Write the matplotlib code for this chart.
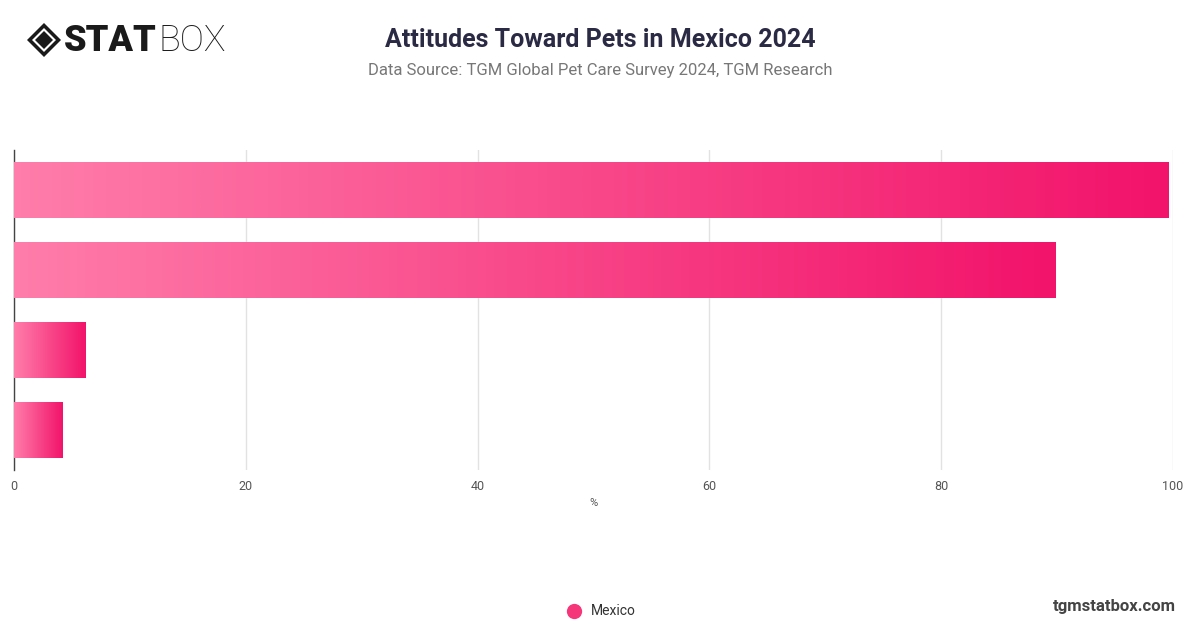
import numpy as np
import matplotlib.pyplot as plt
from matplotlib.colors import LinearSegmentedColormap
from matplotlib.patches import Polygon
from matplotlib.lines import Line2D

plt.rcParams['font.family'] = ['Roboto', 'DejaVu Sans']

# dados (rótulos das categorias não aparecem no gráfico)
categorias = ["A", "B", "C", "D"]
valores = [99.6, 89.9, 6.2, 4.2]
serie = "Mexico"
ticks_x = [0, 20, 40, 60, 80, 100]

cor_clara = "#FF7DAA"
cor_escura = "#F2136A"
cmap = LinearSegmentedColormap.from_list("rosa", [cor_clara, cor_escura])

fig = plt.figure(figsize=(12, 6.28), dpi=100)
ax = fig.add_axes([14 / 1200, 1 - 470 / 628, (1173 - 14) / 1200, 320 / 628])

altura = 0.7
grad = np.linspace(0, 1, 256).reshape(1, -1)
for i, v in enumerate(valores):
    ax.imshow(grad, cmap=cmap, aspect="auto", interpolation="bicubic",
              extent=[0, v, i + altura / 2, i - altura / 2], zorder=3)

ax.set_xlim(0, 100)
ax.set_ylim(len(valores) - 0.5, -0.5)
ax.set_yticks([])
ax.set_xticks(ticks_x)
ax.tick_params(axis="x", length=0, pad=7, labelsize=9, labelcolor="#555555")
ax.grid(axis="x", color="#e2e2e2", linewidth=1, zorder=0)
for s in ["top", "right", "bottom"]:
    ax.spines[s].set_visible(False)
ax.spines["left"].set_color("#444444")
ax.spines["left"].set_linewidth(1)
ax.set_xlabel("%", fontsize=8, color="#555555", labelpad=4)

# título
fig.text(0.5, 1 - 40 / 628, "Attitudes Toward Pets in Mexico 2024", ha="center", va="center",
         fontsize=18, fontweight="bold", color="#2b2a45")
fig.text(0.5, 1 - 71 / 628, "Data Source: TGM Global Pet Care Survey 2024, TGM Research",
         ha="center", va="center", fontsize=12, color="#777777")

# logo
cx, cy, r = 44 / 1200, 1 - 40 / 628, 17
def diamante(rx, ry, **kw):
    pts = [(cx - rx, cy), (cx, cy + ry), (cx + rx, cy), (cx, cy - ry)]
    fig.patches.append(Polygon(pts, closed=True, transform=fig.transFigure, **kw))
diamante(r / 1200, r / 628, facecolor="#1a1a1a", edgecolor="none")
diamante(12 / 1200, 12 / 628, facecolor="white", edgecolor="none")
diamante(9 / 1200, 9 / 628, facecolor="#1a1a1a", edgecolor="none")
fig.text(64 / 1200, 1 - 41 / 628, "STAT", ha="left", va="center", fontsize=26,
         fontweight="black", color="#1a1a1a")
fig.text(159 / 1200, 1 - 41 / 628, "BOX", ha="left", va="center", fontsize=26,
         fontweight="light", color="#1a1a1a")

# legenda
fig.add_artist(Line2D([574 / 1200], [1 - 611 / 628], marker="o", markersize=11,
                      markerfacecolor="#F5377A", markeredgecolor="none",
                      transform=fig.transFigure))
fig.text(591 / 1200, 1 - 611 / 628, serie, ha="left", va="center", fontsize=10, color="#333333")
fig.text(1176 / 1200, 1 - 606 / 628, "tgmstatbox.com", ha="right", va="center", fontsize=12,
         fontweight="bold", color="#444444")

fig.savefig("out.png", dpi=100)
